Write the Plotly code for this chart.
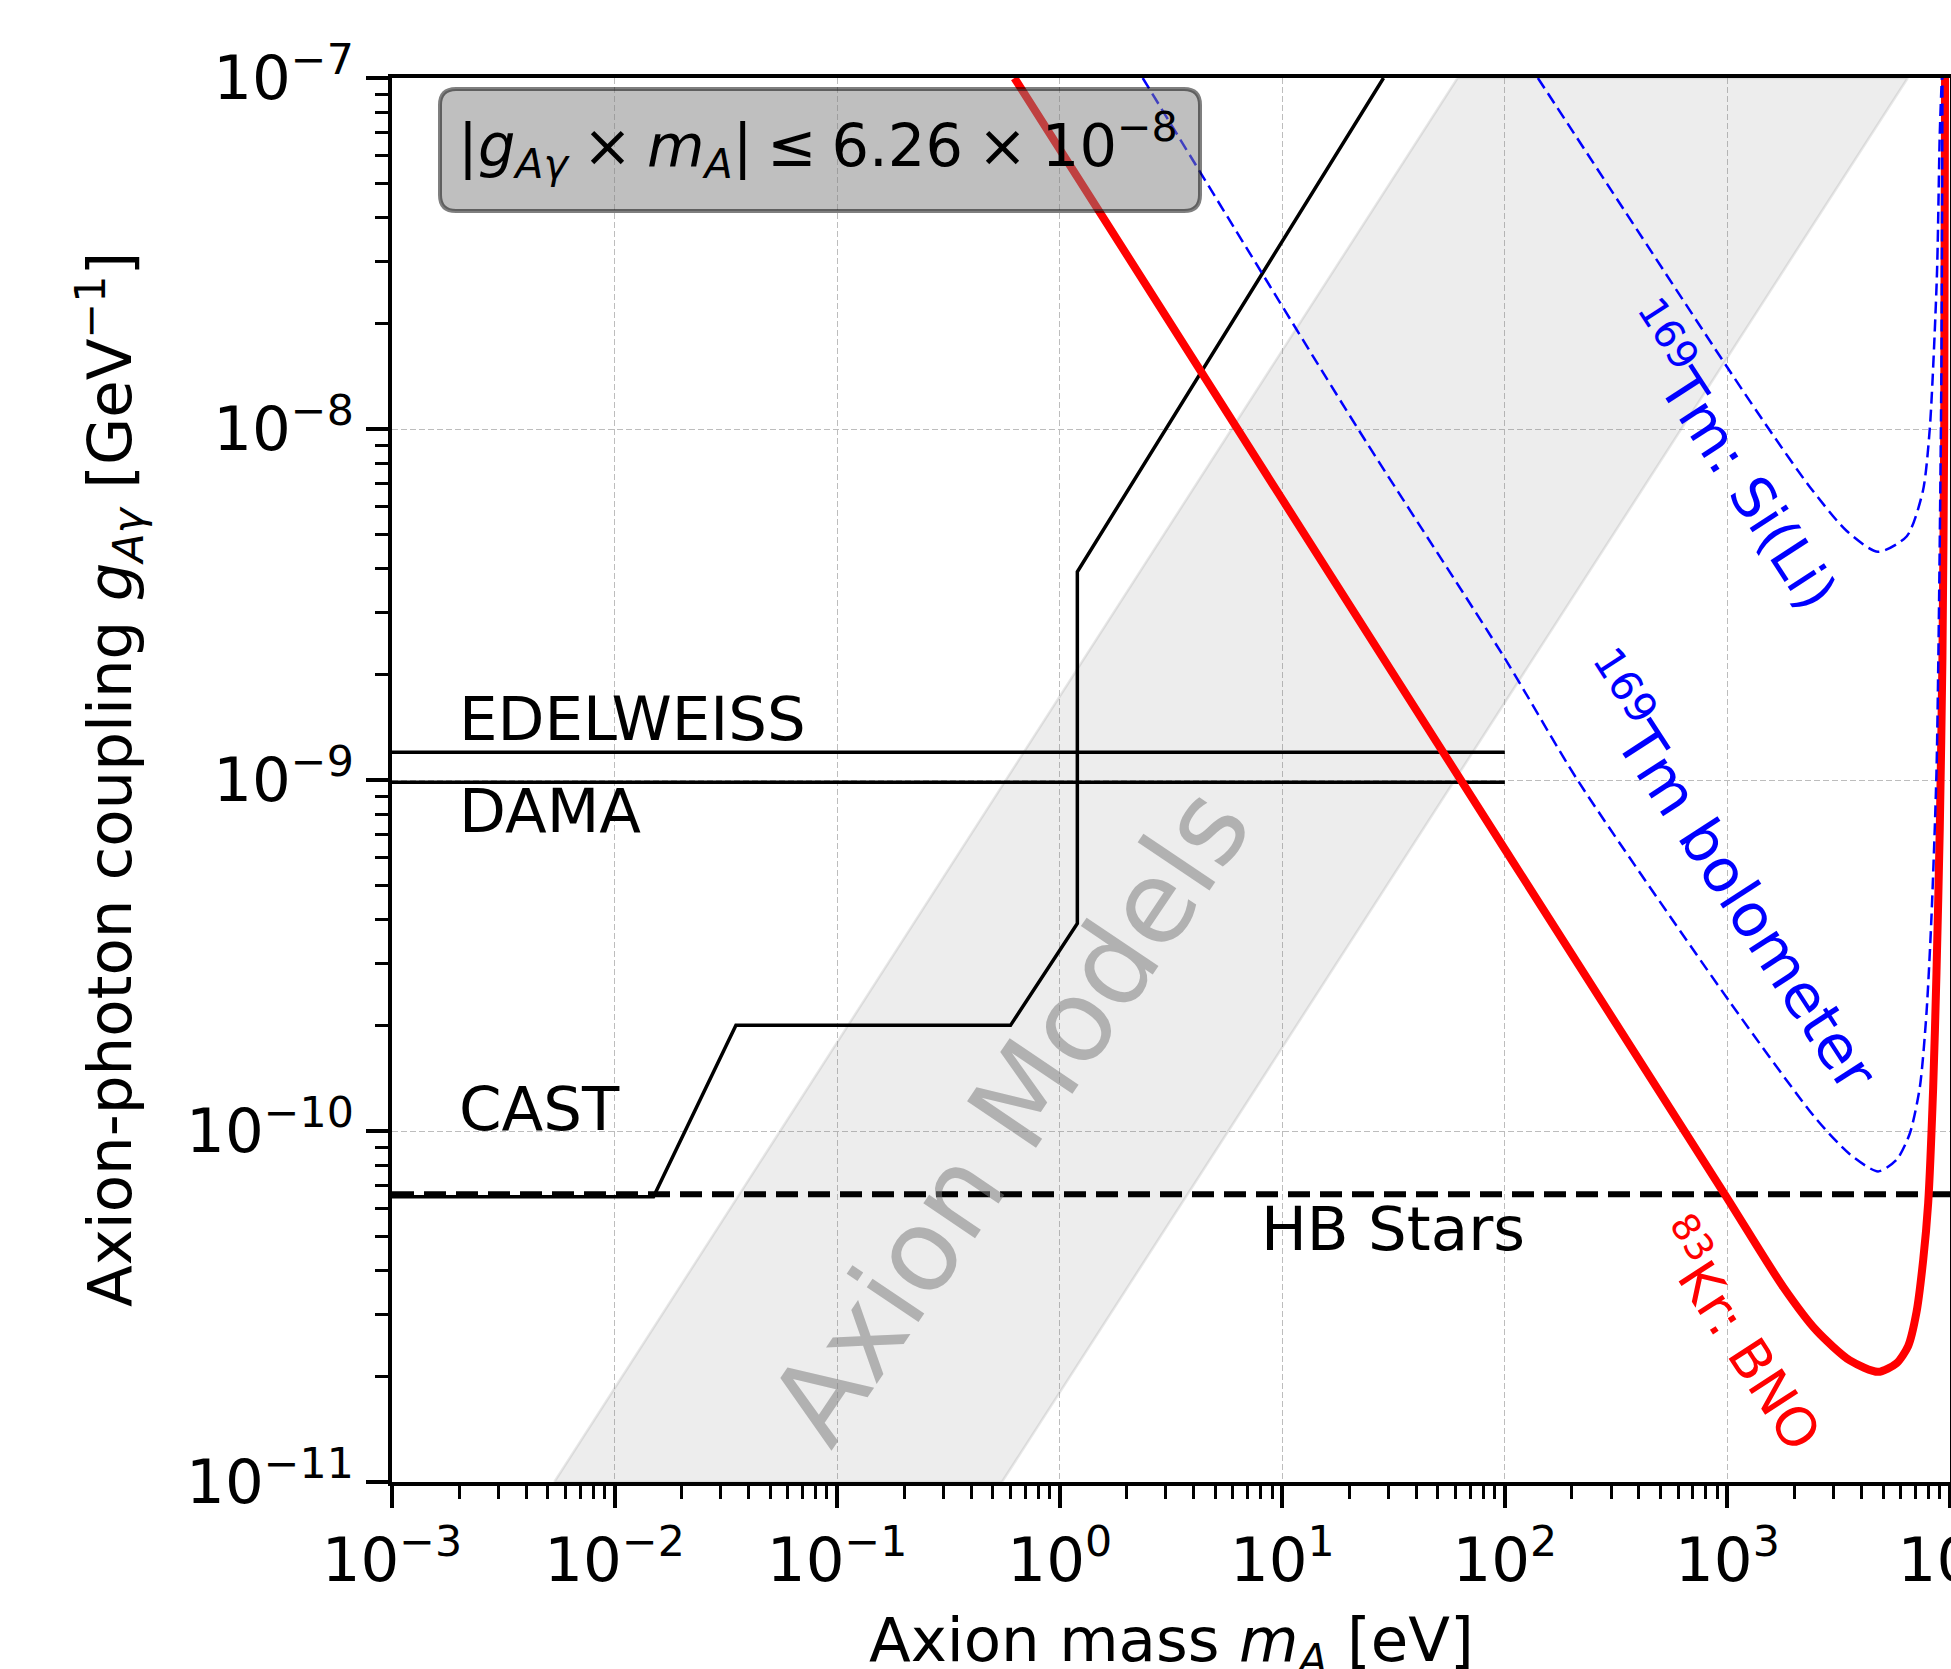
import numpy as np
import plotly.graph_objects as go

# ---------------- data ----------------
# Axion-model band (corners of the shaded parallelogram)
band_m = [5.36e-3, 61.3, 6457.0, 0.55, 5.36e-3]
band_g = [1e-11, 1e-7, 1e-7, 1e-11, 1e-11]

# CAST / helioscope limit (solid black)
cast_m = [1e-3, 0.01496, 0.0351, 0.601, 1.20, 1.20, 28.5]
cast_g = [6.5e-11, 6.5e-11, 2.0e-10, 2.0e-10, 3.9e-10, 3.92e-9, 1e-7]

edelweiss_m = [1e-3, 100.0]
edelweiss_g = [1.2e-9, 1.2e-9]
dama_m = [1e-3, 100.0]
dama_g = [0.985e-9, 0.985e-9]
hb_m = [1e-3, 1e4]
hb_g = [6.6e-11, 6.6e-11]

# 83Kr: BNO (thick red)
kr_m = [0.626, 10.0, 100.0, 973.0, 1778.0, 2512.0, 3548.0, 4753.0, 5754.0,
        6486.0, 7073.0, 7575.0, 7979.0, 8402.0, 8695.0, 8995.0, 9247.0,
        9420.0, 9500.0]
kr_g = [1e-7, 6.3e-9, 6.35e-10, 6.6e-11, 3.6e-11, 2.7e-11, 2.22e-11,
        2.06e-11, 2.18e-11, 2.44e-11, 3.05e-11, 4.28e-11, 6.24e-11, 1.33e-10,
        2.82e-10, 7.23e-10, 2.23e-9, 1e-8, 1e-7]

# 169Tm bolometer (blue dashed)
bolo_m = [2.36, 21.9, 100.0, 212.0, 1026.0, 2512.0, 3548.0, 4753.0, 5754.0,
          6592.0, 7316.0, 7838.0, 8260.0, 8695.0, 8933.0, 9150.0, 9250.0]
bolo_g = [1e-7, 1e-8, 2.22e-9, 1e-9, 2.33e-10, 1.08e-10, 8.59e-11, 7.67e-11,
          8.28e-11, 9.82e-11, 1.33e-10, 2.16e-10, 4.10e-10, 1.05e-9, 3.26e-9,
          1.5e-8, 1e-7]

# 169Tm: Si(Li) (blue dashed)
sili_m = [140.7, 1026.0, 1535.0, 2345.0, 3437.0, 4745.0, 6397.0, 7551.0,
          8110.0, 8730.0, 8995.0, 9186.0]
sili_g = [1e-7, 1.46e-8, 1e-8, 6.84e-9, 5.12e-9, 4.47e-9, 4.95e-9, 6.65e-9,
          1e-8, 2.71e-8, 6.92e-8, 1e-7]

# axis ticks
x_decades = [-3, -2, -1, 0, 1, 2, 3, 4]
y_decades = [-11, -10, -9, -8, -7]
x_ticklabels = ["10<sup>−3</sup>", "10<sup>−2</sup>", "10<sup>−1</sup>", "10<sup>0</sup>",
                "10<sup>1</sup>", "10<sup>2</sup>", "10<sup>3</sup>", "10<sup>4</sup>"]
y_ticklabels = ["10<sup>−11</sup>", "10<sup>−10</sup>", "10<sup>−9</sup>",
                "10<sup>−8</sup>", "10<sup>−7</sup>"]

# ---------------- styling / layout constants ----------------
FONT = "DejaVu Sans"
W, H = 1951, 1669
ML, MR, MT, MB = 392, 1, 78, 187
PW, PH = W - ML - MR, H - MT - MB

x_major = [10.0 ** d for d in x_decades]
y_major = [10.0 ** d for d in y_decades]
x_minor = [k * 10.0 ** d for d in x_decades[:-1] for k in range(2, 10)]
y_minor = [k * 10.0 ** d for d in y_decades[:-1] for k in range(2, 10)]

fig = go.Figure()

fig.add_trace(go.Scatter(x=band_m, y=band_g, mode="lines", fill="toself",
                         fillcolor="rgba(128,128,128,0.14)",
                         line=dict(color="rgba(128,128,128,0.18)", width=2.5),
                         hoverinfo="skip"))
fig.add_trace(go.Scatter(x=edelweiss_m, y=edelweiss_g, mode="lines",
                         line=dict(color="black", width=3.5)))
fig.add_trace(go.Scatter(x=dama_m, y=dama_g, mode="lines",
                         line=dict(color="black", width=3.5)))
fig.add_trace(go.Scatter(x=cast_m, y=cast_g, mode="lines",
                         line=dict(color="black", width=3.5)))
fig.add_trace(go.Scatter(x=hb_m, y=hb_g, mode="lines",
                         line=dict(color="black", width=6, dash="22px,10px")))
fig.add_trace(go.Scatter(x=kr_m, y=kr_g, mode="lines",
                         line=dict(color="red", width=8, shape="spline", smoothing=0.7)))
fig.add_trace(go.Scatter(x=bolo_m, y=bolo_g, mode="lines",
                         line=dict(color="blue", width=2.5, dash="12px,6px",
                                   shape="spline", smoothing=0.7)))
fig.add_trace(go.Scatter(x=sili_m, y=sili_g, mode="lines",
                         line=dict(color="blue", width=2.5, dash="12px,6px",
                                   shape="spline", smoothing=0.7)))

axis_common = dict(
    type="log", showline=True, linecolor="black", linewidth=4, mirror=True,
    ticks="outside", ticklen=22, tickwidth=4, tickcolor="black",
    showgrid=True, gridcolor="#bdbdbd", gridwidth=1, griddash="6px,3px",
    zeroline=False, tickfont=dict(family=FONT, size=61, color="black"),
    ticklabeloverflow="allow", automargin=False,
)

fig.update_xaxes(range=[-3, 4], tickmode="array", tickvals=x_major, ticktext=x_ticklabels,
                 minor=dict(tickmode="array", tickvals=x_minor, ticks="outside", ticklen=13,
                            tickwidth=2.5, tickcolor="black", showgrid=False),
                 **axis_common)
fig.update_yaxes(range=[-11, -7], tickmode="array", tickvals=y_major, ticktext=y_ticklabels,
                 minor=dict(tickmode="array", tickvals=y_minor, ticks="outside", ticklen=13,
                            tickwidth=2.5, tickcolor="black", showgrid=False),
                 **axis_common)

# rounded, semi-transparent box at top-left
def fx(px):
    return (px - ML) / PW

def fy(py):
    return 1 - (py - MT) / PH

bx0, bx1, by0, by1, r = 440, 1200, 89, 211, 16
path = (f"M {fx(bx0 + r)},{fy(by0)} L {fx(bx1 - r)},{fy(by0)} "
        f"Q {fx(bx1)},{fy(by0)} {fx(bx1)},{fy(by0 + r)} L {fx(bx1)},{fy(by1 - r)} "
        f"Q {fx(bx1)},{fy(by1)} {fx(bx1 - r)},{fy(by1)} L {fx(bx0 + r)},{fy(by1)} "
        f"Q {fx(bx0)},{fy(by1)} {fx(bx0)},{fy(by1 - r)} L {fx(bx0)},{fy(by0 + r)} "
        f"Q {fx(bx0)},{fy(by0)} {fx(bx0 + r)},{fy(by0)} Z")
fig.add_shape(type="path", path=path, xref="paper", yref="paper", layer="above",
              fillcolor="rgba(128,128,128,0.5)", line=dict(color="rgba(0,0,0,0.5)", width=4))

annotations = []

def add_text(text, m, g, size=61, color="black", angle=0, xanchor="center"):
    annotations.append(dict(text=text, x=np.log10(m), y=np.log10(g), xref="x", yref="y",
                            showarrow=False, textangle=angle, xanchor=xanchor, yanchor="middle",
                            font=dict(family=FONT, size=size, color=color)))

add_text("EDELWEISS", 1.95e-3, 1.496e-9, xanchor="left")
add_text("DAMA", 1.95e-3, 8.18e-10, xanchor="left")
add_text("CAST", 1.95e-3, 1.156e-10, xanchor="left")
add_text("HB Stars", 7.85, 5.26e-11, xanchor="left")
add_text("Axion Models", 0.597, 1.11e-10, size=114, color="rgba(128,128,128,0.55)", angle=-56)
add_text("<sup>169</sup>Tm: Si(Li)", 1035, 8.43e-9, size=57, color="blue", angle=57)
add_text("<sup>169</sup>Tm bolometer", 1014, 5.51e-10, size=60, color="blue", angle=57)
add_text("<sup>83</sup>Kr: BNO", 1125, 2.65e-11, size=54, color="red", angle=57)

SP = "\u2005"
annotations.append(dict(
    text=f"|<i>g</i><sub><i>Aγ</i></sub>{SP}×{SP}<i>m</i><sub><i>A</i></sub>|{SP}≤{SP}6.26{SP}×{SP}10<sup>−8</sup>",
    x=fx(818), y=fy(146), xref="paper", yref="paper", showarrow=False,
    xanchor="center", yanchor="middle", font=dict(family=FONT, size=59, color="black")))

annotations.append(dict(
    text="Axion mass <i>m</i><sub><i>A</i></sub> [eV]",
    x=0.5, y=0, xref="paper", yref="paper", showarrow=False, xanchor="center",
    yanchor="middle", yshift=-162, font=dict(family=FONT, size=61, color="black")))
annotations.append(dict(
    text="Axion-photon coupling <i>g</i><sub><i>Aγ</i></sub> [GeV<sup>−1</sup>]",
    x=0, y=0.5, xref="paper", yref="paper", showarrow=False, xanchor="center",
    yanchor="middle", xshift=-283, textangle=-90,
    font=dict(family=FONT, size=61, color="black")))

fig.update_layout(width=W, height=H, margin=dict(l=ML, r=MR, t=MT, b=MB, autoexpand=False),
                  plot_bgcolor="white", paper_bgcolor="white", showlegend=False,
                  annotations=annotations, font=dict(family=FONT))

fig.write_html("out.html", config={"displayModeBar": False},
               post_script="document.body.style.margin='0';document.body.style.overflow='hidden';")
